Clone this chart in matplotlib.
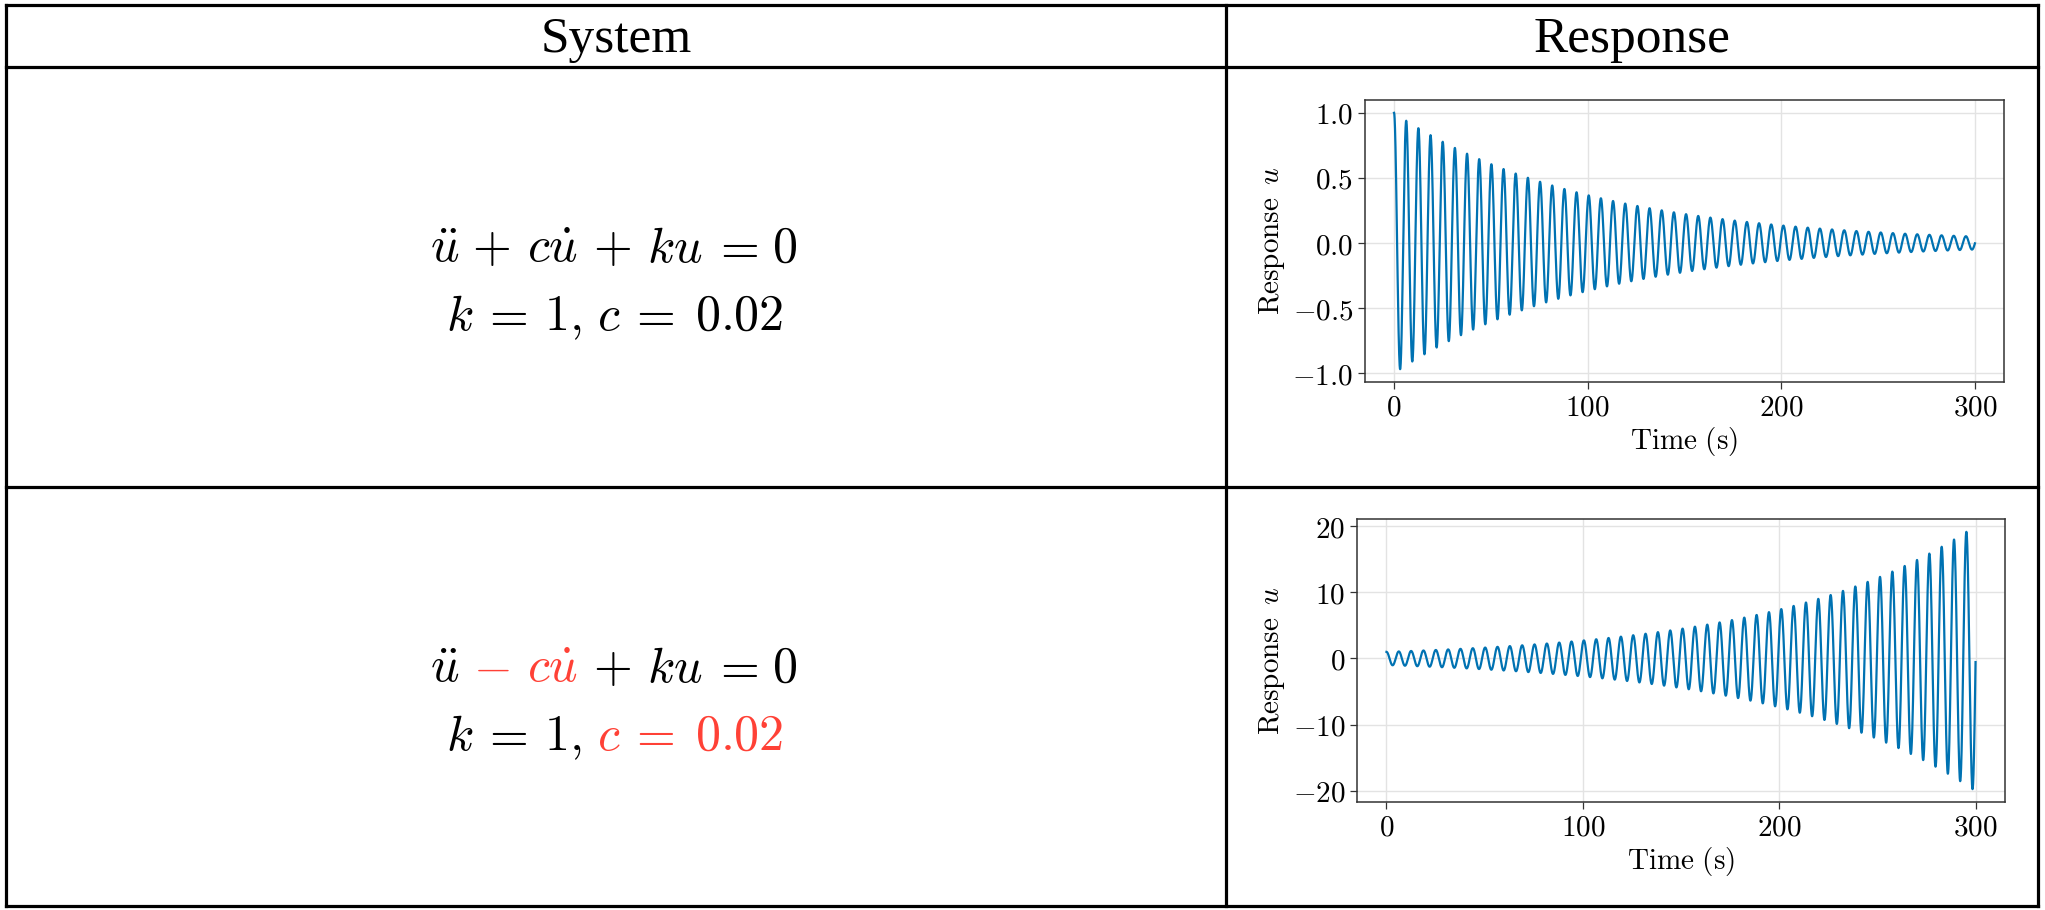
import numpy as np
import matplotlib
matplotlib.use("Agg")
import matplotlib.pyplot as plt
from matplotlib.lines import Line2D
from matplotlib.ticker import FuncFormatter

plt.rcParams["mathtext.fontset"] = "cm"

# System parameters shown in the left column
k_values = [1.0, 1.0]
c_values = [0.02, -0.02]      # second row: negative damping
u0 = 1.0
v0 = 0.0
t_end = 300.0
dt = 0.05

header_labels = ["System", "Response"]
x_ticks = [0, 100, 200, 300]
y_ticks = [[-1.0, -0.5, 0.0, 0.5, 1.0], [-20, -10, 0, 10, 20]]
y_fmt = ["{:.1f}", "{:.0f}"]

RED = "#ff4136"
BLUE = "#0072b2"

W, H = 2045, 910


def solve(k, c):
    """RK4 integration of u'' + c u' + k u = 0."""
    n = int(round(t_end / dt))
    t = np.linspace(0.0, t_end, n + 1)
    y = np.zeros((n + 1, 2))
    y[0] = (u0, v0)
    f = lambda s: np.array([s[1], -c * s[1] - k * s[0]])
    for i in range(n):
        s = y[i]
        a = f(s)
        b = f(s + 0.5 * dt * a)
        d = f(s + 0.5 * dt * b)
        e = f(s + dt * d)
        y[i + 1] = s + dt / 6.0 * (a + 2 * b + 2 * d + e)
    return t, y[:, 0]


def fx(px):
    return px / W


def fy(py):
    return 1.0 - py / H


fig = plt.figure(figsize=(W / 100, H / 100), dpi=100)
fig.patch.set_facecolor("white")

# table grid
x_left, x_mid, x_right = 6, 1226, 2038
y_top, y_head, y_row, y_bot = 5, 67, 487, 906
lw_table = 2.3
for py in (y_top, y_head, y_row, y_bot):
    fig.add_artist(Line2D([fx(x_left), fx(x_right)], [fy(py), fy(py)],
                          color="black", lw=lw_table, solid_capstyle="projecting"))
for px in (x_left, x_mid, x_right):
    fig.add_artist(Line2D([fx(px), fx(px)], [fy(y_top), fy(y_bot)],
                          color="black", lw=lw_table, solid_capstyle="projecting"))

# headers
head_y = fy(52)
fig.text(fx((x_left + x_mid) / 2), head_y, header_labels[0], ha="center", va="baseline",
         family="Liberation Serif", fontsize=37)
fig.text(fx((x_mid + x_right) / 2), head_y, header_labels[1], ha="center", va="baseline",
         family="Liberation Serif", fontsize=37)

# equations: each symbol group is placed on its own so that TeX-like
# spacing is kept and the damping term can be coloured
eq_size = 36
eq_line = [r"$\ddot{u}$", r"$+$", r"$c\dot{u}$", r"$+$", r"$ku$", r"$=$", r"$0$"]
eq_x = [445, 491, 552, 612, 675, 735, 785]
par_line = [r"$k$", r"$=$", r"$1,$", r"$c$", r"$=$", r"$0.02$"]
par_x = [460, 504, 563, 609, 651, 739]


def draw_tokens(tokens, xs, base, colors):
    for s, x, col in zip(tokens, xs, colors):
        fig.text(fx(x), fy(base), s, color=col, fontsize=eq_size,
                 ha="center", va="baseline")


K = "black"
draw_tokens(eq_line, eq_x, 262, [K] * 7)
draw_tokens(par_line, par_x, 330, [K] * 6)
eq_neg = list(eq_line)
eq_neg[1] = r"$-$"
draw_tokens(eq_neg, eq_x, 682, [K, RED, RED, K, K, K, K])
draw_tokens(par_line, par_x, 750, [K, K, K, RED, RED, RED])

# response plots
boxes = [(1365, 2004, 100, 382), (1357, 2005, 519, 802)]
for i, (l, r, t, b) in enumerate(boxes):
    ax = fig.add_axes([fx(l), fy(b), fx(r - l), (b - t) / H])
    tt, uu = solve(k_values[i], c_values[i])
    ax.plot(tt, uu, color=BLUE, lw=1.6)
    ax.set_xticks(x_ticks)
    ax.set_yticks(y_ticks[i])
    fmt = y_fmt[i]
    ax.yaxis.set_major_formatter(FuncFormatter(lambda v, p, fmt=fmt: "$" + fmt.format(v) + "$"))
    ax.xaxis.set_major_formatter(FuncFormatter(lambda v, p: "$%d$" % v))
    ax.grid(True, color="#e3e3e3", lw=1.0)
    ax.set_axisbelow(True)
    ax.tick_params(labelsize=21, length=5, width=0.9, direction="out", color="#333333")
    for sp in ax.spines.values():
        sp.set_color("#333333")
        sp.set_linewidth(1.1)
    ax.set_xlabel(r"$\mathrm{Time\ (s)}$", fontsize=21, labelpad=2)
    ax.set_ylabel(r"$\mathrm{Response}\ \,u$", fontsize=21, labelpad=4)

fig.savefig("out.png", dpi=100, facecolor="white")
